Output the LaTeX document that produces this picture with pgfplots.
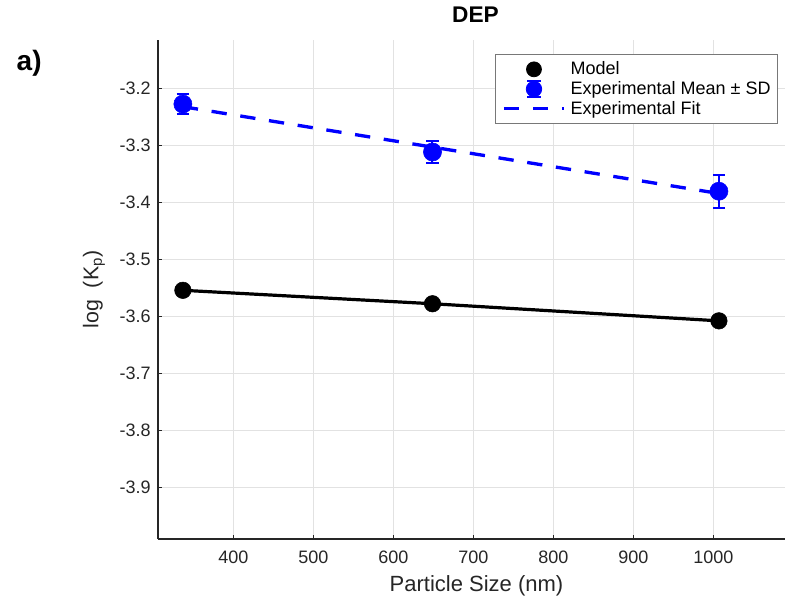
\documentclass[border=0pt]{standalone}
\usepackage{pgfplots}
\pgfplotsset{compat=1.18}
\usepackage{fontspec}
\setmainfont{Liberation Sans}
\definecolor{axgray}{RGB}{38,38,38}
\definecolor{gridgray}{RGB}{226,226,226}
\definecolor{mblue}{RGB}{0,0,255}
\definecolor{leggray}{RGB}{120,120,120}
\begin{document}
\begin{tikzpicture}
\begin{axis}[
  at={(0,0)}, anchor=south west,
  scale only axis, width=470.25pt, height=374.25pt,
  xmin=305.9, xmax=1089.6, ymin=-3.9907, ymax=-3.1153,
  axis lines=left, axis line style={-, axgray, line width=0.8pt},
  xtick={400,500,...,1000}, xticklabels={400,500,600,700,800,900,1000},
  ytick={-3.9,-3.8,-3.7,-3.6,-3.5,-3.4,-3.3,-3.2},
  yticklabels={-3.9,-3.8,-3.7,-3.6,-3.5,-3.4,-3.3,-3.2},
  tick align=inside, major tick length=3pt, tick style={axgray, line width=0.6pt},
  grid=major, grid style={gridgray, line width=0.6pt},
  ticklabel style={font=\fontsize{13.5}{16}\selectfont, text=axgray},
  xticklabel style={anchor=base, yshift=-18pt},
  yticklabel style={anchor=east, inner sep=0pt, xshift=-5.25pt},
  xlabel={Particle Size (nm)},
  xlabel style={at={(axis description cs:0.508,0)}, anchor=base, yshift=-39.4pt, font=\fontsize{16.5}{19}\selectfont, text=axgray},
  ylabel={log\ \ (K\textsubscript{p})},
  ylabel style={at={(axis description cs:-0.1021,0.5)}, anchor=center, font=\fontsize{16}{19}\selectfont, text=axgray},
  title={\textbf{DEP}},
  title style={at={(axis description cs:0.5064,1)}, anchor=base, yshift=6.75pt, font=\fontsize{17}{20}\selectfont},
  legend cell align=left,
  legend style={at={(0.98884,0.9714)}, anchor=north east, draw=leggray, line width=0.6pt, fill=white,
    font=\fontsize{13.5}{16}\selectfont, inner xsep=5.25pt, inner ysep=4pt,
    row sep=0.8pt, column sep=3.75pt,
    nodes={inner sep=0pt, text height=11pt, text depth=3pt}},
]
% Model line (no legend)
\addplot[black, line width=2.4pt, forget plot] coordinates {(337,-3.5544) (649,-3.5780) (1007,-3.6080)};
% Model markers
\addplot[only marks, mark=*, mark size=6.2pt, black,
  legend image code/.code={\path[draw=none, fill=none] (0pt,-7pt) rectangle (45pt,7pt); \fill[black] (22.5pt,0pt) circle (5.6pt);}]
  coordinates {(337,-3.5544) (649,-3.5780) (1007,-3.6080)};
% Experimental mean +- SD
\addplot[only marks, mark=*, mark size=6.8pt, mblue, mark options={draw=mblue, fill=mblue},
  legend image code/.code={
    \path[draw=none, fill=none] (0pt,-7pt) rectangle (45pt,7pt);
    \draw[mblue, line width=1.5pt] (22.5pt,-5.9pt) -- (22.5pt,5.9pt);
    \draw[mblue, line width=1.5pt] (17.6pt,-5.9pt) -- (27.4pt,-5.9pt) (17.6pt,5.9pt) -- (27.4pt,5.9pt);
    \fill[mblue] (22.5pt,0pt) circle (5.8pt);},
  error bars/.cd, y dir=both, y explicit,
  error bar style={line width=1.5pt, mblue},
  error mark options={mblue, rotate=90, mark size=4.6pt, line width=1.5pt}]
  coordinates {(337,-3.2277) +- (0,0.0170) (649,-3.3118) +- (0,0.0196) (1007,-3.3806) +- (0,0.0293)};
% Experimental fit
\addplot[mblue, line width=2.5pt, dash pattern=on 11.5pt off 10.3pt,
  legend image code/.code={\path[draw=none, fill=none] (0pt,-7pt) rectangle (45pt,7pt); \draw[mblue, line width=2.5pt, dash pattern=on 11.5pt off 10.3pt] (0pt,0pt) -- (45pt,0pt);}]
  coordinates {(337,-3.2323) (1007,-3.3846)};
\legend{Model, Experimental Mean ± SD, Experimental Fit}
\end{axis}
\node[anchor=base west, font=\fontsize{21}{24}\selectfont\bfseries] at (-109.5pt,351.2pt) {a)};
\pgfresetboundingbox
\path[use as bounding box] (-118.5pt,-42.75pt) rectangle (470.25pt,404.25pt);
\end{tikzpicture}
\end{document}
